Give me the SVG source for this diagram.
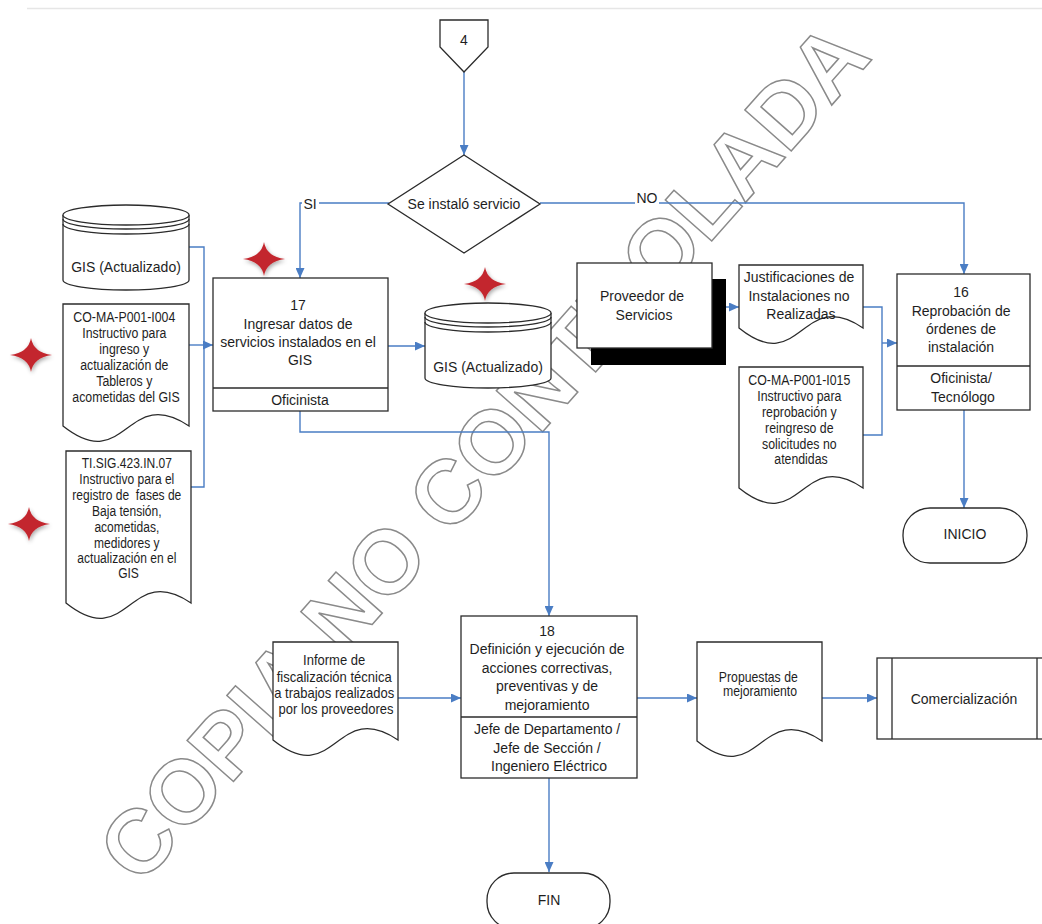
<svg xmlns="http://www.w3.org/2000/svg" xmlns:xlink="http://www.w3.org/1999/xlink" width="1042" height="924" viewBox="0 0 1042 924">
  <style>
    .shape{fill:#fff;stroke:#2b2b2b;stroke-width:1.3}
    .line{fill:none;stroke:#2b2b2b;stroke-width:1.3}
    .conn{fill:none;stroke:#4a7dc4;stroke-width:1.4}
    .t{font-family:"Liberation Sans",Arial,sans-serif;font-size:14px;fill:#1e1e1e;text-anchor:middle;dominant-baseline:central}
    .n{font-size:14.5px}
    .s{font-size:13px}
    .wm{font-family:"Liberation Sans",Arial,sans-serif;font-weight:bold;font-size:90px;fill:none;stroke:#8a8a8a;stroke-width:1.5}
    .star{fill:#c3282e}
  </style>
  <defs>
    <marker id="arr" markerUnits="userSpaceOnUse" markerWidth="10" markerHeight="9" refX="10" refY="4.5" orient="auto">
      <path d="M0,0 L10,4.5 L0,9 Z" fill="#4a7dc4"/>
    </marker>
    <filter id="glow" x="-50%" y="-50%" width="200%" height="200%">
      <feGaussianBlur in="SourceAlpha" stdDeviation="2"/>
      <feOffset dx="1" dy="2" result="b"/>
      <feComponentTransfer><feFuncA type="linear" slope="0.35"/></feComponentTransfer>
      <feMerge><feMergeNode/><feMergeNode in="SourceGraphic"/></feMerge>
    </filter>
    <path id="starShape" class="star" d="M0,-17 Q2.5,-2.5 21,0 Q2.5,2.5 0,17 Q-2.5,2.5 -21,0 Q-2.5,-2.5 0,-17 Z"/>
  </defs>

  <rect width="1042" height="924" fill="#fff"/>
  <line x1="27" y1="8.5" x2="1042" y2="8.5" stroke="#e6e6e6" stroke-width="1.5"/>

  <!-- watermark -->
  <text class="wm" transform="translate(140,887) rotate(-48.5)">COPIA NO CONTROLADA</text>

  <!-- connectors -->
  <g id="connectors">
    <path class="conn" d="M464,72 V155" marker-end="url(#arr)"/>
    <path class="conn" d="M389,203 H300 V278" marker-end="url(#arr)"/>
    <path class="conn" d="M540,203 H964 V274" marker-end="url(#arr)"/>
    <path class="conn" d="M189,247 H204 V487 H191"/>
    <path class="conn" d="M189,345 H213" marker-end="url(#arr)"/>
    <path class="conn" d="M388,346 H425" marker-end="url(#arr)"/>
    <path class="conn" d="M300,411 V432 H549 V616" marker-end="url(#arr)"/>
    <path class="conn" d="M726,307 H739" marker-end="url(#arr)"/>
    <path class="conn" d="M863,307 H882 V435 H863"/>
    <path class="conn" d="M882,343 H897" marker-end="url(#arr)"/>
    <path class="conn" d="M964,410 V508" marker-end="url(#arr)"/>
    <path class="conn" d="M549,778 V872" marker-end="url(#arr)"/>
    <path class="conn" d="M398,698 H461" marker-end="url(#arr)"/>
    <path class="conn" d="M637,698 H697" marker-end="url(#arr)"/>
    <path class="conn" d="M822,698 H877" marker-end="url(#arr)"/>
    <rect x="302" y="196" width="17" height="15" fill="#fff"/>
    <text class="t" x="310" y="204">SI</text>
    <rect x="635" y="191" width="24" height="13" fill="#fff"/>
    <text class="t" x="647" y="198">NO</text>
  </g>

  <!-- off-page connector 4 -->
  <g id="conector-4">
    <path class="shape" d="M440,20 H488 V47 L464,72 L440,47 Z"/>
    <text class="t" x="464" y="40">4</text>
  </g>

  <!-- decision -->
  <g id="decision">
    <path class="shape" d="M464,155 L540,204 L464,253 L388,204 Z"/>
    <text class="t" x="464" y="204">Se instaló servicio</text>
  </g>

  <!-- GIS database (left) -->
  <g id="gis-1">
    <path class="shape" d="M63,215 V280 A63,10 0 0 0 189,280 V215"/>
    <ellipse class="shape" cx="126" cy="215" rx="63" ry="10"/>
    <path class="line" d="M63,219 A63,10 0 0 0 189,219 M63,224 A63,10 0 0 0 189,224"/>
    <text class="t" x="126" y="267">GIS (Actualizado)</text>
  </g>

  <!-- document CO-MA-P001-I004 (condensed lettering) -->
  <g id="doc-i004">
    <path class="shape" d="M63,304 H189 V426 C126,384 126,476 63,426 Z"/>
    <text class="t n" transform="translate(126 0) scale(0.85 1)">
      <tspan x="0" y="317">CO-MA-P001-I004</tspan>
      <tspan x="0" y="333">Instructivo para</tspan>
      <tspan x="0" y="349">ingreso y</tspan>
      <tspan x="0" y="365">actualización de</tspan>
      <tspan x="0" y="381">Tableros y</tspan>
      <tspan x="0" y="397">acometidas del GIS</tspan>
    </text>
  </g>

  <!-- document TI.SIG.423.IN.07 -->
  <g id="doc-tisig">
    <path class="shape" d="M66,451 H191 V603 C128.5,561 128.5,653 66,603 Z"/>
    <text class="t n" transform="translate(128.5 0) scale(0.83 1)">
      <tspan x="0" y="463">TI.SIG.423.IN.07</tspan>
      <tspan x="0" y="479">Instructivo para el</tspan>
      <tspan x="0" y="495">registro de&#160; fases de</tspan>
      <tspan x="0" y="511">Baja tensión,</tspan>
      <tspan x="0" y="527">acometidas,</tspan>
      <tspan x="0" y="543">medidores y</tspan>
      <tspan x="0" y="558">actualización en el</tspan>
      <tspan x="0" y="573">GIS</tspan>
    </text>
  </g>

  <!-- activity 17 -->
  <g id="act-17">
    <rect class="shape" x="213" y="278" width="175" height="133"/>
    <line class="line" x1="213" y1="388" x2="388" y2="388"/>
    <text class="t">
      <tspan x="300" y="305">17</tspan>
      <tspan x="300" y="324">Ingresar datos de</tspan>
      <tspan x="300" y="342">servicios instalados en el</tspan>
      <tspan x="300" y="360">GIS</tspan>
    </text>
    <text class="t" x="300" y="400">Oficinista</text>
  </g>

  <!-- GIS database (middle) -->
  <g id="gis-2">
    <path class="shape" d="M425,313 V378 A63,10 0 0 0 551,378 V313"/>
    <ellipse class="shape" cx="488" cy="313" rx="63" ry="10"/>
    <path class="line" d="M425,317 A63,10 0 0 0 551,317 M425,322 A63,10 0 0 0 551,322"/>
    <text class="t" x="488" y="367">GIS (Actualizado)</text>
  </g>

  <!-- external entity -->
  <g id="proveedor">
    <rect x="591" y="279" width="135" height="86" fill="#000"/>
    <rect class="shape" x="577" y="263" width="135" height="85"/>
    <text class="t">
      <tspan x="644" y="296">Proveedor de</tspan>
      <tspan x="644" y="315">Servicios</tspan>
    </text>
  </g>

  <!-- document Justificaciones -->
  <g id="doc-justificaciones">
    <path class="shape" d="M739,265 H863 V328 C801,286 801,378 739,328 Z"/>
    <text class="t">
      <tspan x="801" y="277">Justificaciones de</tspan>
      <tspan x="801" y="296">Instalaciones no</tspan>
      <tspan x="801" y="314">Realizadas</tspan>
    </text>
  </g>

  <!-- document CO-MA-P001-I015 -->
  <g id="doc-i015">
    <path class="shape" d="M739,367 H863 V488 C801,446 801,538 739,488 Z"/>
    <text class="t n" transform="translate(801 0) scale(0.85 1)">
      <tspan x="0" y="380">CO-MA-P001-I015</tspan>
      <tspan x="0" y="396">Instructivo para</tspan>
      <tspan x="0" y="412">reprobación y</tspan>
      <tspan x="0" y="428">reingreso de</tspan>
      <tspan x="0" y="444">solicitudes no</tspan>
      <tspan x="0" y="459">atendidas</tspan>
    </text>
  </g>

  <!-- activity 16 -->
  <g id="act-16">
    <rect class="shape" x="897" y="274" width="133" height="136"/>
    <line class="line" x1="897" y1="366" x2="1030" y2="366"/>
    <text class="t">
      <tspan x="963" y="292">16</tspan>
      <tspan x="963" y="311">Reprobación de</tspan>
      <tspan x="963" y="329">órdenes de</tspan>
      <tspan x="963" y="347">instalación</tspan>
      <tspan x="963" y="378">Oficinista/</tspan>
      <tspan x="963" y="397">Tecnólogo</tspan>
    </text>
  </g>

  <!-- terminator INICIO -->
  <g id="inicio">
    <rect class="shape" x="903" y="508" width="124" height="55" rx="27" ry="27"/>
    <text class="t" x="965" y="534">INICIO</text>
  </g>

  <!-- document Informe -->
  <g id="doc-informe">
    <path class="shape" d="M273,642 H398 V740 C335.5,698 335.5,790 273,740 Z"/>
    <text class="t" style="font-size:14px" transform="translate(336 0) scale(0.93 1)">
      <tspan x="0" y="660">Informe de</tspan>
      <tspan x="0" y="677">fiscalización técnica</tspan>
      <tspan x="0" y="693">a trabajos realizados</tspan>
      <tspan x="0" y="709">por los proveedores</tspan>
    </text>
  </g>

  <!-- activity 18 -->
  <g id="act-18">
    <rect class="shape" x="461" y="616" width="176" height="162"/>
    <line class="line" x1="461" y1="717" x2="637" y2="717"/>
    <text class="t">
      <tspan x="549" y="631">18</tspan>
      <tspan x="549" y="649">Definición y ejecución de</tspan>
      <tspan x="549" y="668">acciones correctivas,</tspan>
      <tspan x="549" y="686">preventivas y de</tspan>
      <tspan x="549" y="705">mejoramiento</tspan>
      <tspan x="549" y="729">Jefe de Departamento /</tspan>
      <tspan x="549" y="748">Jefe de Sección /</tspan>
      <tspan x="549" y="766">Ingeniero Eléctrico</tspan>
    </text>
  </g>

  <!-- document Propuestas -->
  <g id="doc-propuestas">
    <path class="shape" d="M697,642 H822 V741 C759.5,699 759.5,791 697,741 Z"/>
    <text class="t" transform="translate(760 0) scale(0.875 1)">
      <tspan x="0" y="677">Propuestas de</tspan>
      <tspan x="0" y="691">mejoramiento</tspan>
    </text>
  </g>

  <!-- predefined process -->
  <g id="comercializacion">
    <rect class="shape" x="877" y="658" width="175" height="81"/>
    <line class="line" x1="892" y1="658" x2="892" y2="739"/>
    <line class="line" x1="1037" y1="658" x2="1037" y2="739"/>
    <text class="t" x="964" y="699">Comercialización</text>
  </g>

  <!-- terminator FIN -->
  <g id="fin">
    <rect class="shape" x="487" y="873" width="123" height="56" rx="27" ry="27"/>
    <text class="t" x="549" y="900">FIN</text>
  </g>

  <!-- change markers -->
  <g id="marcas" filter="url(#glow)">
    <use href="#starShape" x="264" y="259"/>
    <use href="#starShape" x="485" y="284"/>
    <use href="#starShape" x="31" y="355"/>
    <use href="#starShape" x="29" y="524"/>
  </g>
</svg>
